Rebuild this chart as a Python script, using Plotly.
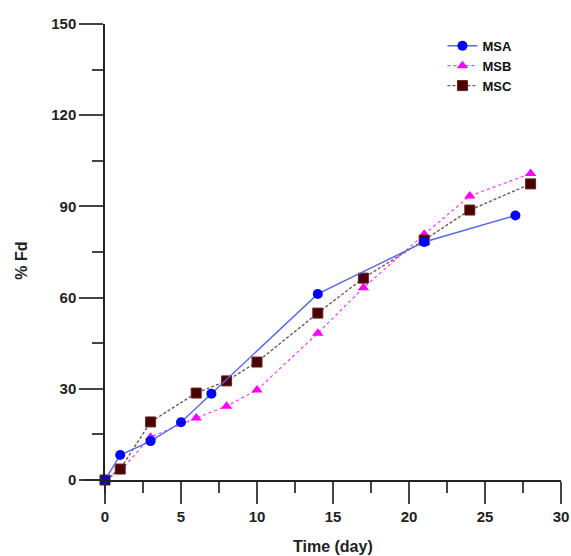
import plotly.graph_objects as go

msa_x = [0, 1, 3, 5, 7, 14, 21, 27]
msa_y = [0, 8.2, 12.8, 19, 28.4, 61.2, 78.3, 87]
msb_x = [0, 1, 3, 6, 8, 10, 14, 17, 21, 24, 28]
msb_y = [0, 3, 14.1, 20.4, 24.3, 29.6, 48.3, 63.2, 80.8, 93.4, 100.8]
msc_x = [0, 1, 3, 6, 8, 10, 14, 17, 21, 24, 28]
msc_y = [0, 3.6, 19.1, 28.6, 32.6, 38.8, 54.9, 66.4, 78.9, 88.8, 97.4]

x_ticks = [0, 5, 10, 15, 20, 25, 30]
y_ticks = [0, 30, 60, 90, 120, 150]

fig = go.Figure()
fig.add_trace(go.Scatter(x=msb_x, y=msb_y, name="MSB", mode="lines+markers",
                         line=dict(color="#ff33ff", width=1.2, dash="dot"),
                         marker=dict(symbol="triangle-up", size=10, color="#ff00ff"),
                         cliponaxis=False, legendrank=2))
fig.add_trace(go.Scatter(x=msc_x, y=msc_y, name="MSC", mode="lines+markers",
                         line=dict(color="#7a5555", width=1.4, dash="3px,2px"),
                         marker=dict(symbol="square", size=10, color="#4a0000",
                                     line=dict(color="#6a2020", width=1)),
                         cliponaxis=False, legendrank=3))
fig.add_trace(go.Scatter(x=msa_x, y=msa_y, name="MSA", mode="lines+markers",
                         line=dict(color="#5566f0", width=1.4),
                         marker=dict(symbol="circle", size=10, color="#0000ff"),
                         cliponaxis=False, legendrank=1))

tickfont = dict(family="Liberation Sans, Arial", size=15, color="#222222", weight="bold")
fig.update_layout(
    width=571, height=556,
    margin=dict(l=105, r=10, t=24, b=76, autoexpand=False),
    paper_bgcolor="white", plot_bgcolor="white",
    showlegend=True,
    legend=dict(x=0.74, y=0.985, xanchor="left", yanchor="top",
                font=dict(family="Liberation Sans, Arial", size=13, color="#111111", weight="bold"),
                bgcolor="rgba(0,0,0,0)", tracegroupgap=0, itemwidth=30),
    font=dict(family="Liberation Sans, Arial"),
)
fig.update_xaxes(range=[0, 30], tickvals=x_ticks, showgrid=False, zeroline=False,
                 automargin=False, ticklabeloverflow="allow",
                 showline=True, linecolor="#222222", linewidth=1.5,
                 ticks="outside", ticklen=22, tickwidth=1.5, tickcolor="#444444",
                 tickfont=tickfont,
                 minor=dict(tickvals=[2.5, 7.5, 12.5, 17.5, 22.5, 27.5], ticks="outside",
                            ticklen=11, tickwidth=1.5, tickcolor="#444444"))
fig.update_yaxes(range=[0, 150], tickvals=y_ticks, showgrid=False, zeroline=False,
                 automargin=False,
                 showline=True, linecolor="#222222", linewidth=1.5,
                 ticks="outside", ticklen=24, tickwidth=1.5, tickcolor="#444444",
                 tickfont=tickfont,
                 minor=dict(tickvals=[15, 45, 75, 105, 135], ticks="outside",
                            ticklen=11, tickwidth=1.5, tickcolor="#444444"))

# axis line extensions beyond origin
fig.add_shape(type="line", xref="paper", yref="paper", x0=-0.048, x1=0, y0=0, y1=0,
              line=dict(color="#222222", width=1.5))
fig.add_shape(type="line", xref="paper", yref="paper", x0=0, x1=0, y0=-0.03, y1=0,
              line=dict(color="#222222", width=1.5))

fig.add_annotation(text="<b>Time (day)</b>", xref="paper", yref="paper", x=0.5, y=-0.145,
                   xanchor="center", yanchor="middle", showarrow=False,
                   font=dict(family="Liberation Sans, Arial", size=16, color="#222222"))
fig.add_annotation(text="<b>% Fd</b>", xref="paper", yref="paper", x=-0.183, y=0.48,
                   xanchor="center", yanchor="middle", showarrow=False, textangle=-90,
                   font=dict(family="Liberation Sans, Arial", size=16, color="#222222"))

fig.write_html("out.html", config={"displayModeBar": False},
               post_script="document.body.style.margin='0px';document.body.style.overflow='hidden';")
